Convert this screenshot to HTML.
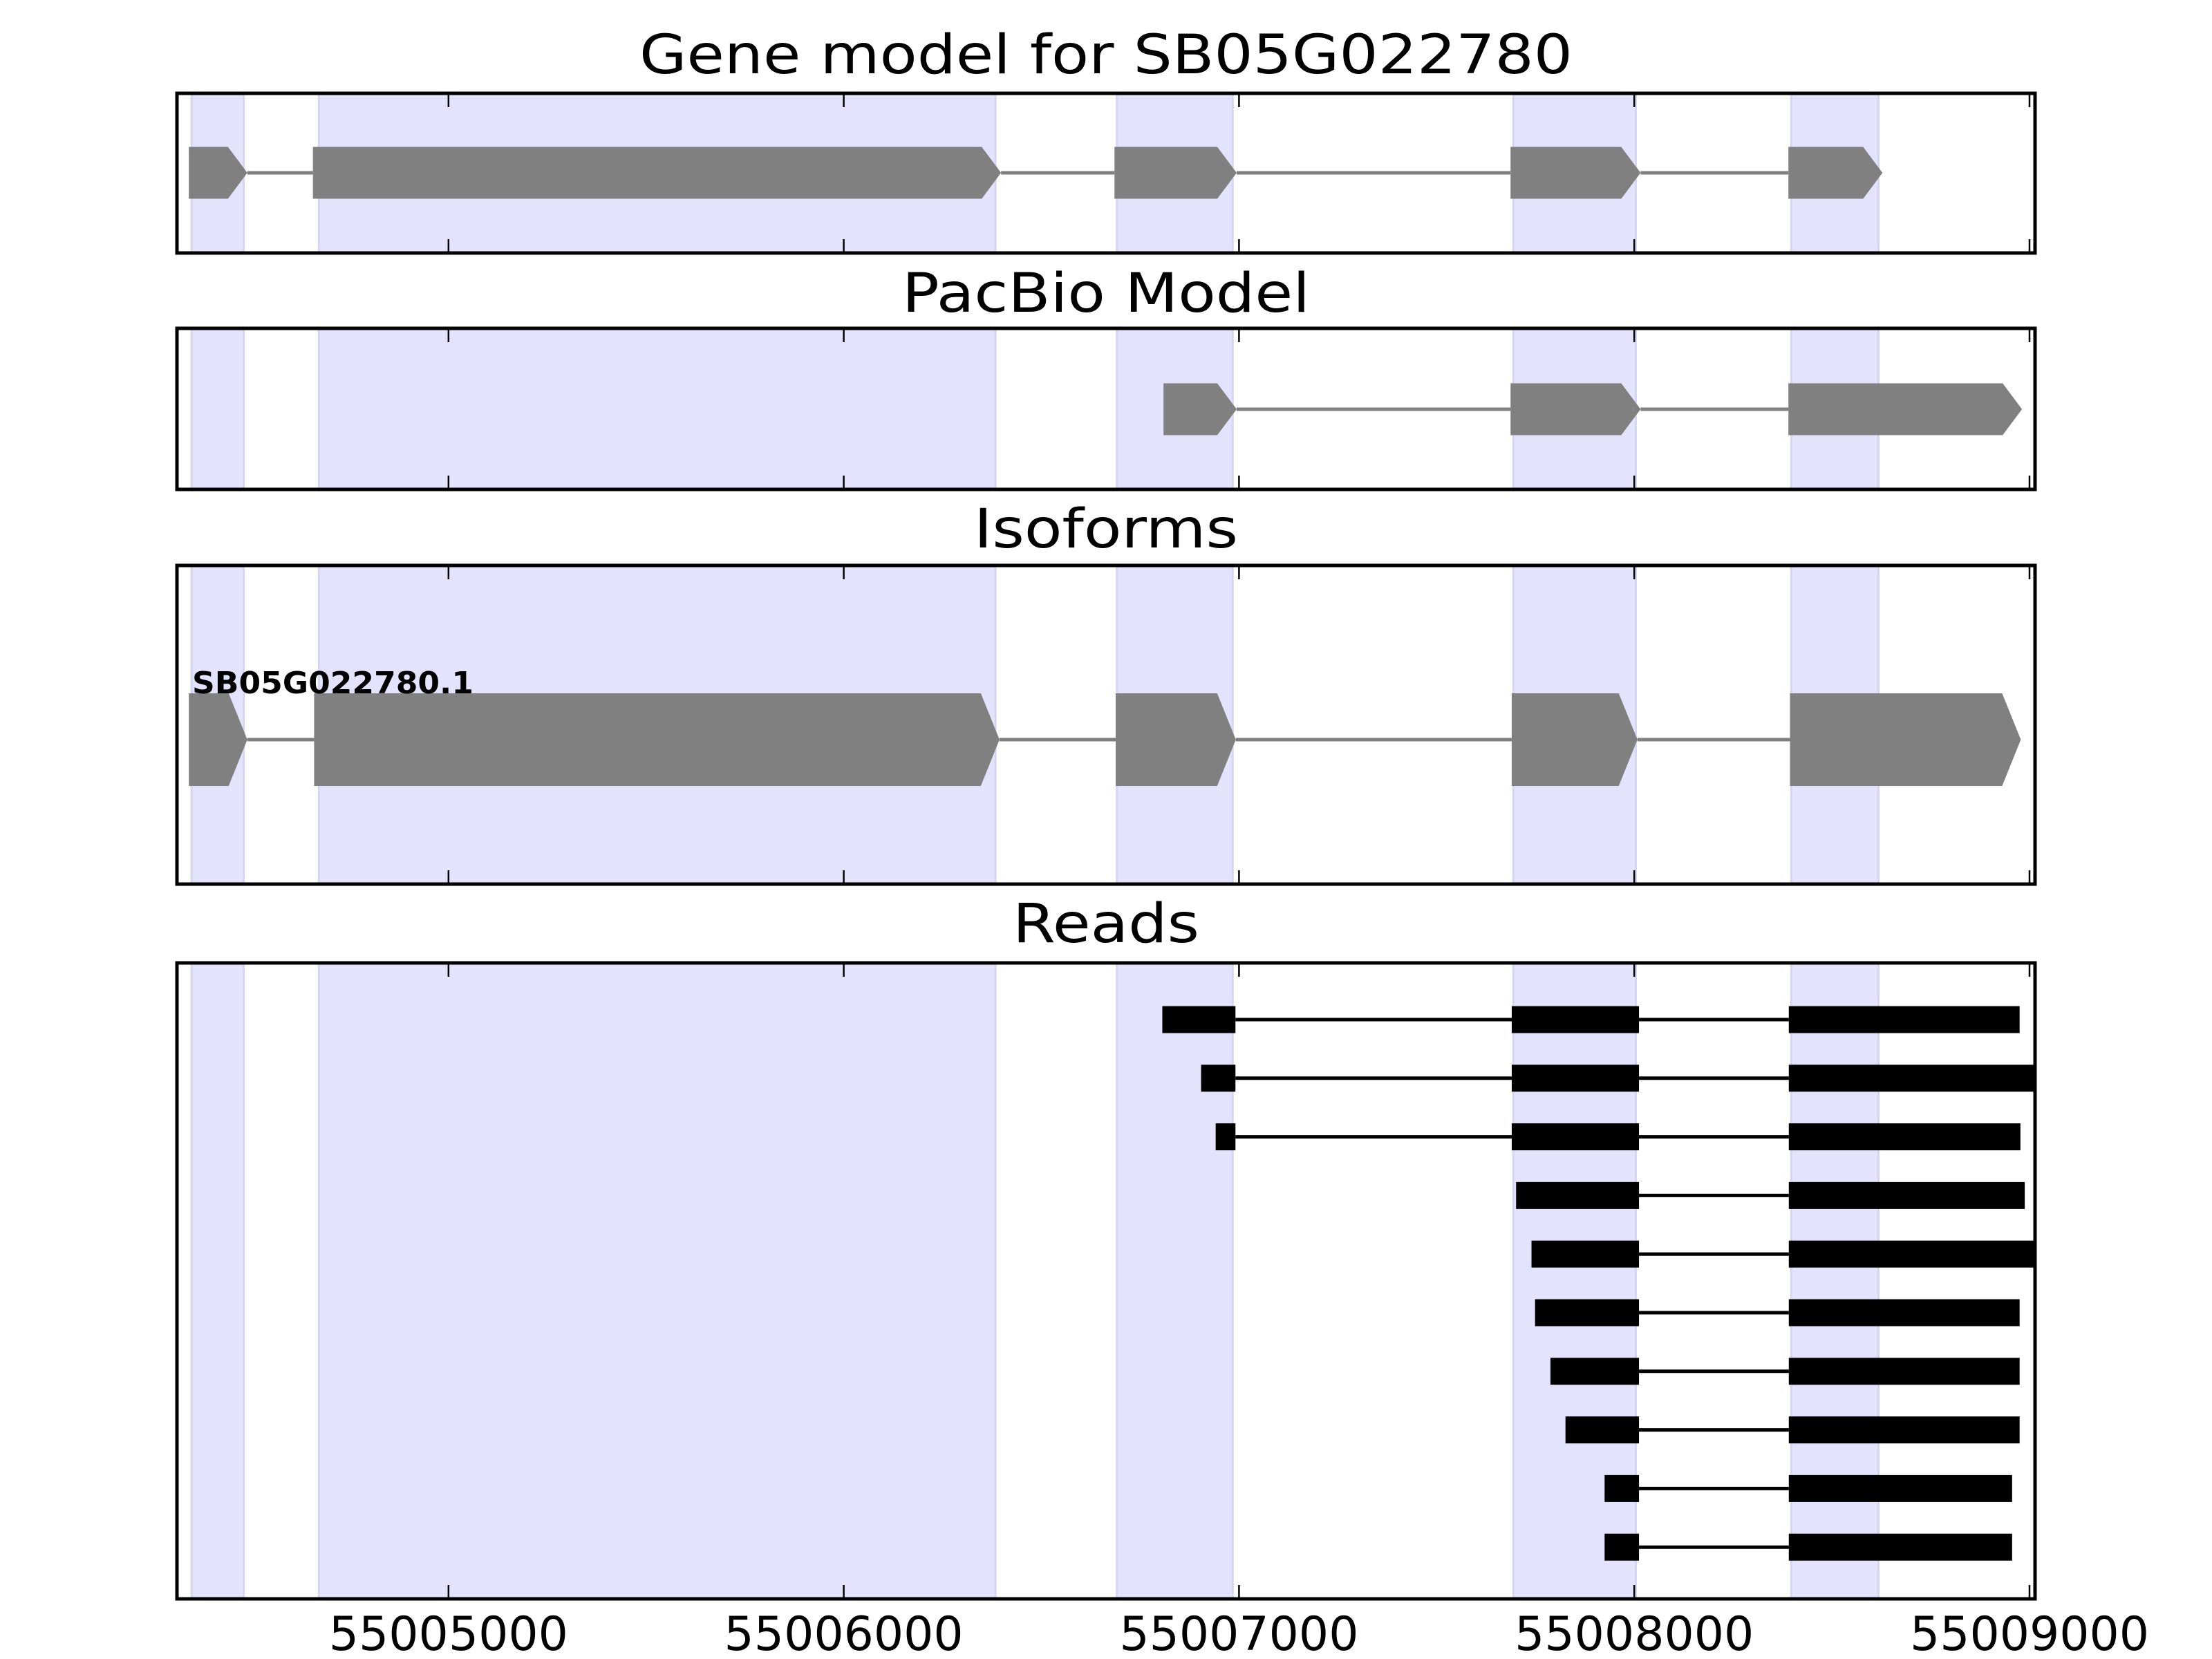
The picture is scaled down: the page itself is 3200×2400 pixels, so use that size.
<!DOCTYPE html>
<html><head><meta charset="utf-8"><style>
html,body{margin:0;padding:0;background:#fff;}
svg{display:block;font-family:"DejaVu Sans","Liberation Sans",sans-serif;}
</style></head><body>
<svg id="fig" width="3200" height="2400" viewBox="0 0 3200 2400" xmlns="http://www.w3.org/2000/svg"></svg>
<script>
// ---- data ----
const xDomain = [55004313, 55009014];
const tickValues = [55005000, 55006000, 55007000, 55008000, 55009000];
const tickLabels = ["55005000", "55006000", "55007000", "55008000", "55009000"];
const shadedRegions = [[55004350,55004482],[55004672,55006384],[55006691,55006984],[55007694,55008004],[55008397,55008618]];
const geneModelExons = [[55004343,55004491],[55004657,55006398],[55006685,55006994],[55007687,55008016],[55008390,55008628]];
const pacbioExons = [[55006809,55006994],[55007687,55008016],[55008390,55008981]];
const isoformExons = [[55004343,55004491],[55004660,55006394],[55006688,55006992],[55007690,55008008],[55008394,55008978]];
const isoformName = "SB05G022780.1";
const readExons = [
 [[55006806,55006991],[55007690,55008012],[55008391,55008975]],
 [[55006904,55006991],[55007690,55008012],[55008391,55009050]],
 [[55006941,55006991],[55007690,55008012],[55008391,55008977]],
 [[55007701,55008012],[55008391,55008988]],
 [[55007740,55008012],[55008391,55009050]],
 [[55007749,55008012],[55008391,55008975]],
 [[55007788,55008012],[55008391,55008975]],
 [[55007826,55008012],[55008391,55008975]],
 [[55007925,55008012],[55008391,55008956]],
 [[55007925,55008012],[55008391,55008956]]
];
const panelTitles = ["Gene model for SB05G022780","PacBio Model","Isoforms","Reads"];

// ---- layout ----
const NS="http://www.w3.org/2000/svg";
const svg=document.getElementById('fig');
const L=256,R=2944;
const panels=[{t:135,b:366,ty:106,tw:1350},{t:475,b:708,ty:451,tw:590},{t:818,b:1279,ty:792,tw:382},{t:1393,b:2313,ty:1363,tw:270}];
function X(v){return L+(v-xDomain[0])/(xDomain[1]-xDomain[0])*(R-L);}
function mk(tag,attrs,parent){const e=document.createElementNS(NS,tag);for(const k in attrs)e.setAttribute(k,attrs[k]);(parent||svg).appendChild(e);return e;}
const defs=mk('defs',{});
const cp=mk('clipPath',{id:'clipAll'},defs);
panels.forEach(p=>mk('rect',{x:L,y:p.t,width:R-L,height:p.b-p.t},cp));

function exonPoly(g,s,e,cy,h,arrow,name){
  const x1=X(s),x2=X(e),a=Math.min(arrow,x2-x1);
  const pts=[[x1,cy-h/2],[x2-a,cy-h/2],[x2,cy],[x2-a,cy+h/2],[x1,cy+h/2]].map(p=>p.join(',')).join(' ');
  const el=mk('polygon',{points:pts,fill:'#808080'},g);
  
  
}
function intron(g,a,b,cy,w,col){
  const el=mk('line',{x1:X(a),x2:X(b),y1:cy,y2:cy,stroke:col,'stroke-width':w},g);
  
  
}

panels.forEach((p,i)=>{
  const g=mk('g',{});
  
  
  const t=mk('text',{x:(L+R)/2,y:p.ty,'text-anchor':'middle','font-size':78,fill:'#000',textLength:p.tw,lengthAdjust:'spacingAndGlyphs'},g);
  t.textContent=panelTitles[i];
  
  
  const inner=mk('g',{'clip-path':'url(#clipAll)'},g);
  shadedRegions.forEach(r=>{
    const s=mk('rect',{x:X(r[0]),y:p.t,width:X(r[1])-X(r[0]),height:p.b-p.t,fill:'#e3e3fd',stroke:'#d6d6ee','stroke-width':3},inner);
    
    
  });
  p.g=inner;p.outer=g;
});

// gene model
(function(){const p=panels[0],cy=250,h=75;
 for(let i=0;i<geneModelExons.length-1;i++)intron(p.g,geneModelExons[i][1],geneModelExons[i+1][0],cy,5,'#808080');
 geneModelExons.forEach(e=>exonPoly(p.g,e[0],e[1],cy,h,28,'gene-model-exon'));})();
// pacbio
(function(){const p=panels[1],cy=592,h=75;
 for(let i=0;i<pacbioExons.length-1;i++)intron(p.g,pacbioExons[i][1],pacbioExons[i+1][0],cy,5,'#808080');
 pacbioExons.forEach(e=>exonPoly(p.g,e[0],e[1],cy,h,28,'pacbio-exon'));})();
// isoforms
(function(){const p=panels[2],cy=1070,h=134;
 for(let i=0;i<isoformExons.length-1;i++)intron(p.g,isoformExons[i][1],isoformExons[i+1][0],cy,5,'#808080');
 isoformExons.forEach(e=>exonPoly(p.g,e[0],e[1],cy,h,27,'isoform-exon'));
 const t=mk('text',{x:278,y:1003,'font-size':44,'font-weight':'bold',fill:'#000',textLength:407,lengthAdjust:'spacingAndGlyphs'},p.g);
 t.textContent=isoformName;
 
 })();
// reads
(function(){const p=panels[3];
 readExons.forEach((r,i)=>{const cy=1475+i*84.8,h=39;
  const g=mk('g',{},p.g);
  
  
  for(let j=0;j<r.length-1;j++)intron(g,r[j][1],r[j+1][0],cy,5,'#000');
  r.forEach(e=>{const el=mk('rect',{x:X(e[0]),y:cy-h/2,width:X(e[1])-X(e[0]),height:h,fill:'#000'},g);
   
   });
 });})();

// frames and ticks
panels.forEach((p,i)=>{
  tickValues.forEach(v=>{
    const a=mk('line',{x1:X(v),x2:X(v),y1:p.t,y2:p.t+20,stroke:'#000','stroke-width':2.5},p.outer);
    
    
    const b=mk('line',{x1:X(v),x2:X(v),y1:p.b,y2:p.b-20,stroke:'#000','stroke-width':2.5},p.outer);
    
    
  });
  const f=mk('rect',{x:L,y:p.t,width:R-L,height:p.b-p.t,fill:'none',stroke:'#000','stroke-width':5},p.outer);
  
  
});
tickValues.forEach((v,i)=>{
  const t=mk('text',{x:X(v),y:2387,'text-anchor':'middle','font-size':68,fill:'#000'});
  t.textContent=tickLabels[i];
  
  
});
</script>
</body></html>
